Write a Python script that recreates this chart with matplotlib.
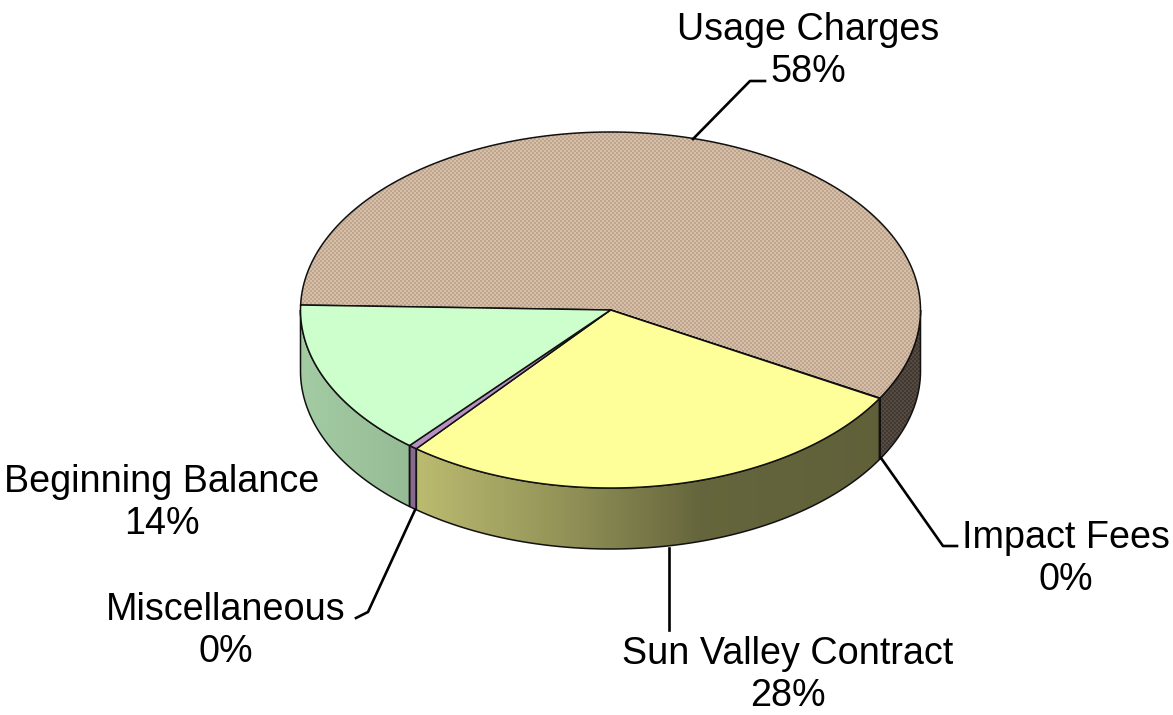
import numpy as np
import matplotlib
matplotlib.use('Agg')
import matplotlib.pyplot as plt
from matplotlib.patches import Polygon

plt.rcParams['font.family'] = ['Liberation Sans', 'DejaVu Sans']

# Data, clockwise from the left edge
categories = ['Usage Charges', 'Impact Fees', 'Sun Valley Contract', 'Miscellaneous', 'Beginning Balance']
shares = [57.8, 0.03, 27.5, 0.45, 14.22]

top_colors = ['#cbb29c', '#8a7a9a', '#ffff99', '#b890c4', '#ccffcc']

# Pie shape, in pixels
cx, cy = 610.5, 310
rx, ry = 310, 178
depth = 61
start_angle = 178.4

fig = plt.figure(figsize=(11.73, 7.15), dpi=100)
ax = fig.add_axes([0, 0, 1, 1])
ax.set_xlim(0, 1173)
ax.set_ylim(715, 0)
ax.axis('off')


def rim(a0, a1, n=200):
    t = np.deg2rad(np.linspace(a0, a1, n))
    return cx + rx * np.cos(t), cy - ry * np.sin(t)


# Brightness of the side wall along x
def side_shade(x):
    return np.interp(x, [301, 420, 560, 700, 921], [0.80, 0.73, 0.58, 0.40, 0.37])


yy_full, xx_full = np.mgrid[0:715, 0:1173]
check = ((xx_full // 2 + yy_full // 2) % 2).astype(float)

edges = start_angle - np.cumsum([0] + shares) * 3.6

# Side walls first, only the front half shows
for i, cat in enumerate(categories):
    a0, a1 = edges[i], edges[i + 1]
    # keep the part of the slice that faces the viewer
    lo = max(a1, -180)
    hi = min(a0, 0)
    if a0 > 180 or hi <= lo:
        continue
    x, y = rim(hi, lo, 120)
    pts = np.r_[np.c_[x, y], np.c_[x[::-1], y[::-1] + depth]]
    poly = Polygon(pts, closed=True, fc='none', ec='none', transform=ax.transData)
    ax.add_patch(poly)
    rgb = np.array(matplotlib.colors.to_rgb(top_colors[i]))
    shade = side_shade(xx_full[0] + 0.5)
    img = rgb[None, None, :] * shade[None, :, None]
    img = np.repeat(img, 715, axis=0)
    if cat == 'Usage Charges':
        img = np.clip(img * (0.86 + 0.28 * check[:, :, None]), 0, 1)
    im = ax.imshow(img, extent=(0, 1173, 715, 0), interpolation='bilinear', zorder=2, aspect='auto')
    im.set_clip_path(poly)
    ax.add_patch(Polygon(pts, closed=True, fc='none', ec='#111111', lw=1.1, zorder=3))

# Top faces
for i, cat in enumerate(categories):
    x, y = rim(edges[i], edges[i + 1], 300)
    pts = np.r_[[[cx, cy]], np.c_[x, y]]
    if cat == 'Usage Charges':
        poly = Polygon(pts, closed=True, fc='none', ec='none')
        ax.add_patch(poly)
        rgb = np.array(matplotlib.colors.to_rgb(top_colors[i]))
        img = rgb[None, None, :] * (0.93 + 0.14 * check[:, :, None])
        im = ax.imshow(np.clip(img, 0, 1), extent=(0, 1173, 715, 0), interpolation='bilinear', zorder=4, aspect='auto')
        im.set_clip_path(poly)
        ax.add_patch(Polygon(pts, closed=True, fc='none', ec='#111111', lw=1.1, zorder=5))
    else:
        ax.add_patch(Polygon(pts, closed=True, fc=top_colors[i], ec='#111111', lw=1.1, zorder=5))

ax.set_xlim(0, 1173)
ax.set_ylim(715, 0)

# Labels and leader lines
label_pos = [(808, 51), (1066, 559), (788, 675), (226, 631), (162, 503)]
leaders = [
    [(693, 139), (750, 81), (765, 81)],
    [(881, 458), (943, 546), (957, 546)],
    [(669, 548), (669, 630)],
    [(415, 510), (368, 612), (356, 618)],
    None,
]
for cat, share, pos, line in zip(categories, shares, label_pos, leaders):
    ax.text(pos[0], pos[1], f'{cat}\n{share:.0f}%', ha='center', va='center',
            fontsize=27.2, color='black', linespacing=1.25, zorder=7)
    if line:
        lx, ly = zip(*line)
        ax.plot(lx, ly, color='black', lw=1.9, zorder=6, solid_joinstyle='round')

fig.savefig('out.png', dpi=100)
